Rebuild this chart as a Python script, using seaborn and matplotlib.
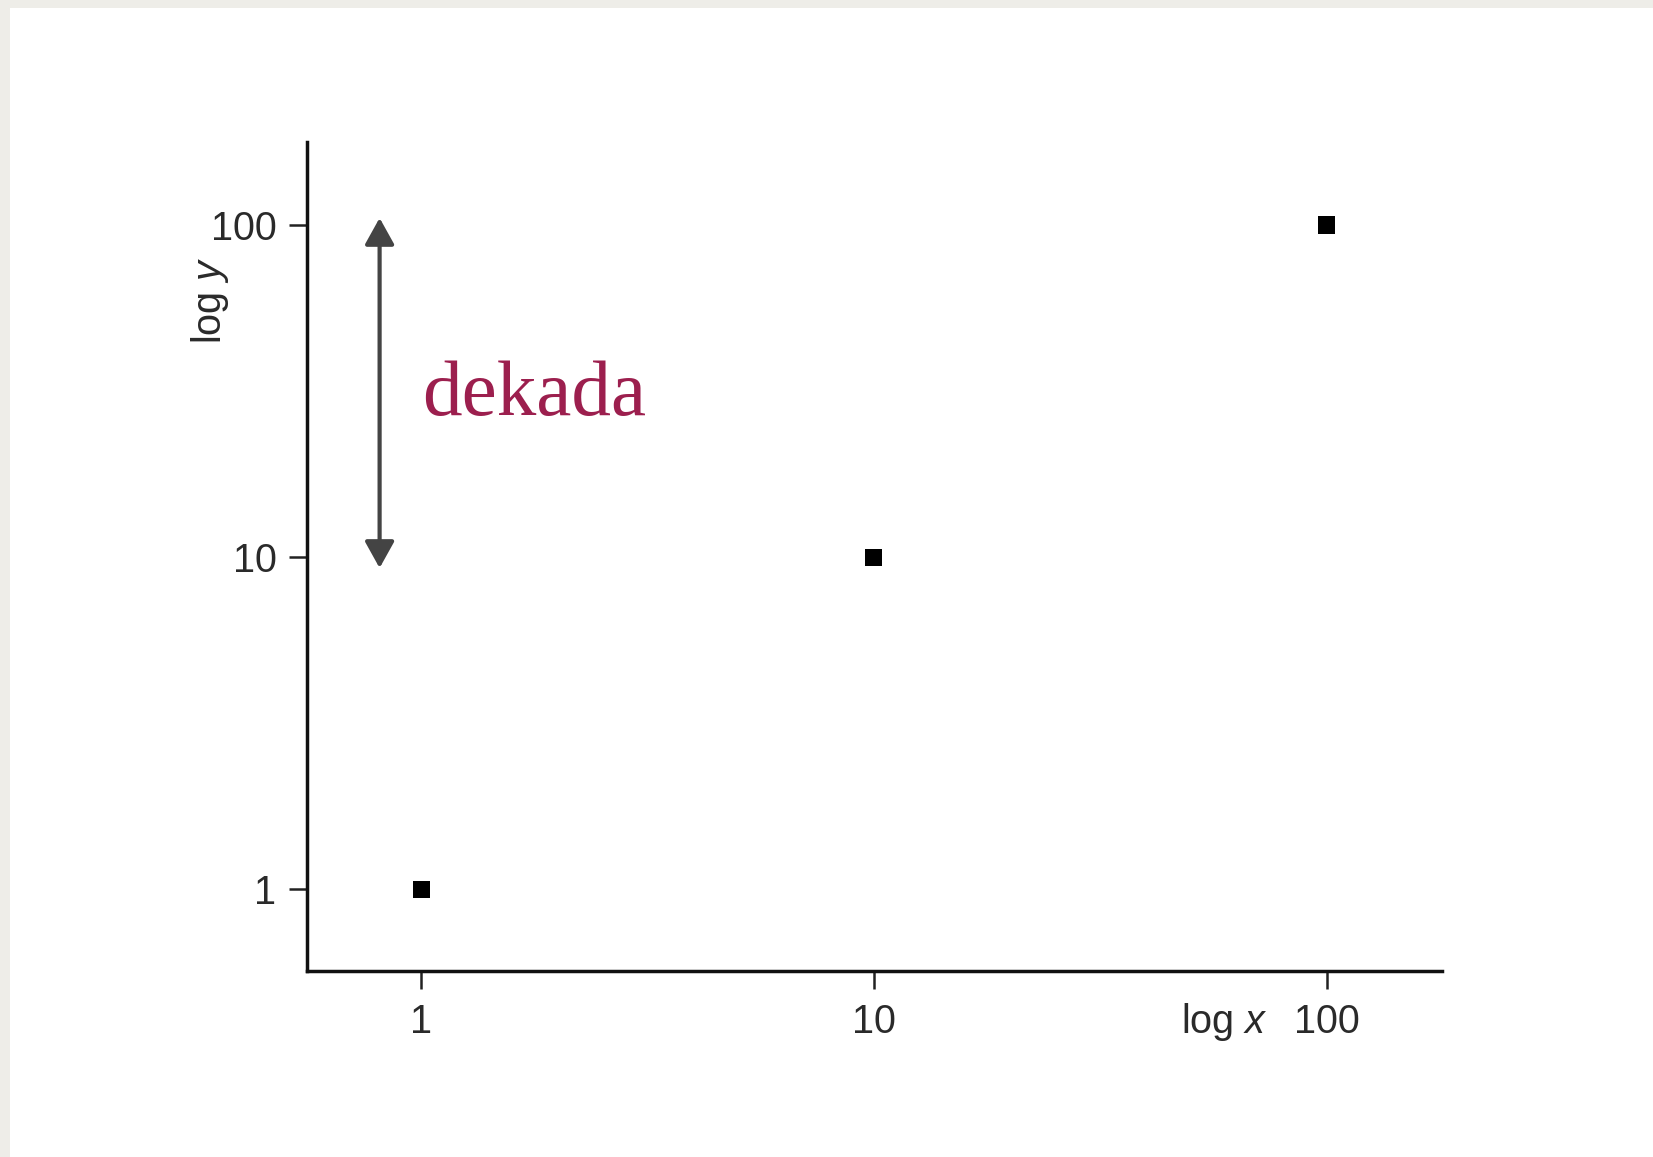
import matplotlib
matplotlib.use("Agg")
import matplotlib.pyplot as plt
import seaborn as sns
import pandas as pd
from matplotlib.patches import Rectangle

# data
x_vals = [1, 10, 100]
y_vals = [1, 10, 100]
tick_vals = [1, 10, 100]
tick_labels = ["1", "10", "100"]
decade_low, decade_high = 9.27, 105
arrow_x = 0.81
annot_text = "dekada"

sns.set_theme(style="ticks")
plt.rcParams['font.family'] = ['Liberation Sans', 'DejaVu Sans']
plt.rcParams['mathtext.fontset'] = 'custom'
plt.rcParams['mathtext.rm'] = 'Liberation Sans'
plt.rcParams['mathtext.it'] = 'Liberation Sans:italic'

fig = plt.figure(figsize=(16.53, 11.57), dpi=100)
fig.patch.set_facecolor('#eeede8')
fig.patches.append(Rectangle((10/1653, 0), 1, 1 - 8/1157, transform=fig.transFigure,
                             facecolor='white', edgecolor='none', zorder=-10))
ax = fig.add_axes([307/1653, 1 - 971/1157, (1442-307)/1653, (971-142)/1157])
ax.set_facecolor('none')

df = pd.DataFrame({"x": x_vals, "y": y_vals})
sns.scatterplot(data=df, x="x", y="y", marker='s', s=150, color='black',
                edgecolor='none', ax=ax, zorder=3)

ax.set_xscale('log')
ax.set_yscale('log')
ax.set_xlim(0.56, 179.5)
ax.set_ylim(0.567, 177.8)
ax.set_xticks(tick_vals)
ax.set_xticklabels(tick_labels)
ax.set_yticks(tick_vals)
ax.set_yticklabels(tick_labels)
ax.minorticks_off()

for s in ['top', 'right']:
    ax.spines[s].set_visible(False)
for s in ['left', 'bottom']:
    ax.spines[s].set_linewidth(2.5)
    ax.spines[s].set_color('#111111')
ax.tick_params(axis='both', length=13, width=1.8, color='#222222',
               labelsize=28.5, labelcolor='#2a2a2a', pad=9)
ax.tick_params(axis='x', pad=10)

ax.set_xlabel("log $x$", fontsize=28.5, color='#2a2a2a')
ax.xaxis.set_label_coords(0.808, -0.062)
ax.xaxis.label.set_va('center')
ax.set_ylabel("log $y$", fontsize=28.5, color='#2a2a2a')
ax.yaxis.set_label_coords(-0.0855, 0.809)
ax.yaxis.label.set_va('center')

ax.annotate('', xy=(arrow_x, decade_high), xytext=(arrow_x, decade_low),
            arrowprops=dict(arrowstyle='<|-|>,head_length=0.9,head_width=0.5',
                            color='#444444', lw=3.0, mutation_scale=18,
                            shrinkA=0, shrinkB=0))
ax.text(1.005, 26.8, annot_text, family=['Liberation Serif', 'DejaVu Serif'],
        fontsize=57, color='#9c1f4e', ha='left', va='baseline')

fig.savefig('out.png', dpi=100, facecolor=fig.get_facecolor())
